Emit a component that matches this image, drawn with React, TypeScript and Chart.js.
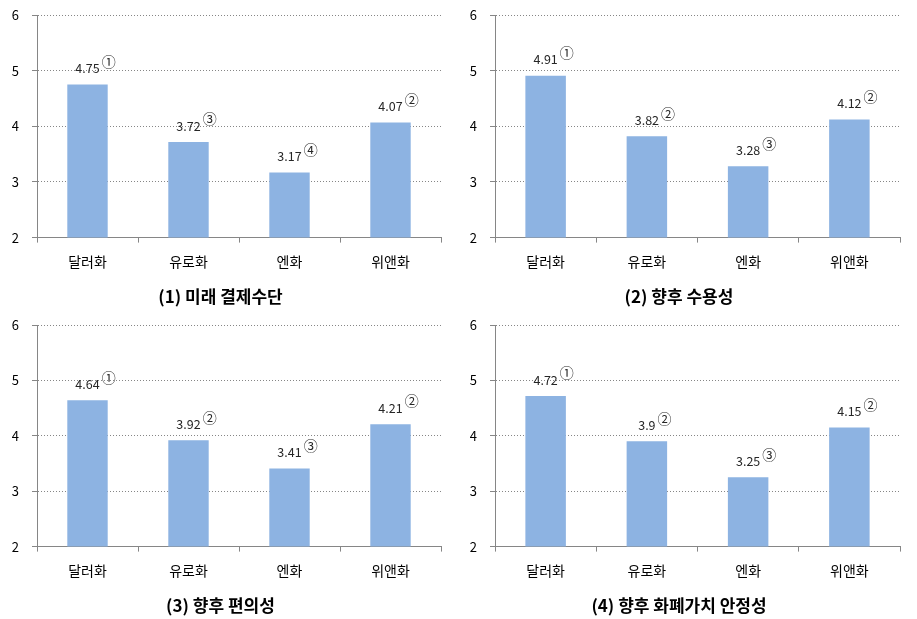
import React, { useEffect, useRef } from "react";
import { Chart, registerables } from "chart.js";

Chart.register(...registerables);

const categories = ["달러화", "유로화", "엔화", "위앤화"];
const yTicks = [2, 3, 4, 5, 6];

const titles = ["(1) 미래 결제수단", "(2) 향후 수용성", "(3) 향후 편의성", "(4) 향후 화폐가치 안정성"];

const values1 = [4.75, 3.72, 3.17, 4.07];
const values2 = [4.91, 3.82, 3.28, 4.12];
const values3 = [4.64, 3.92, 3.41, 4.21];
const values4 = [4.72, 3.9, 3.25, 4.15];

const ranks1 = ["①", "③", "④", "②"];
const ranks2 = ["①", "②", "③", "②"];
const ranks3 = ["①", "②", "③", "②"];
const ranks4 = ["①", "②", "③", "②"];

const FONT = "'Noto Sans CJK KR', 'Noto Sans', sans-serif";
const BAR = "#8DB3E2";
const AXIS = "#868686";

function Panel({ values, ranks, title, width, height }: { values: number[]; ranks: string[]; title: string; width: number; height: number }) {
  const ref = useRef<HTMLCanvasElement | null>(null);
  useEffect(() => {
    if (!ref.current) return;
    const labelPlugin = {
      id: "rankLabels",
      afterDatasetsDraw(chart: any) {
        const ctx = chart.ctx;
        const meta = chart.getDatasetMeta(0);
        ctx.save();
        meta.data.forEach((bar: any, i: number) => {
          const txt = String(values[i]);
          ctx.font = `12.5px ${FONT}`;
          ctx.fillStyle = "#262626";
          ctx.textAlign = "center";
          ctx.textBaseline = "middle";
          const cy = bar.y - 16;
          ctx.fillText(txt, bar.x, cy);
          const w = ctx.measureText(txt).width;
          ctx.font = `14px ${FONT}`;
          ctx.textAlign = "left";
          ctx.fillText(ranks[i], bar.x + w / 2 + 2, cy - 7);
        });
        ctx.restore();
      },
    };
    const chart = new Chart(ref.current, {
      type: "bar",
      data: {
        labels: categories,
        datasets: [{ data: values, backgroundColor: BAR, barPercentage: 0.4, categoryPercentage: 1 }],
      },
      options: {
        animation: false,
        responsive: false,
        devicePixelRatio: 1,
        layout: { padding: { left: 0, right: 17, top: 15, bottom: 0 } },
        plugins: {
          legend: { display: false },
          tooltip: { enabled: false },
          title: {
            display: true,
            text: title,
            position: "bottom",
            color: "#000",
            font: { family: FONT, size: 17, weight: "bold" },
            padding: { top: 9, bottom: 3 },
          },
        },
        scales: {
          x: {
            grid: { display: true, drawOnChartArea: false, drawTicks: true, tickLength: 5, color: AXIS, offset: true },
            border: { display: true, color: AXIS, width: 1 },
            ticks: { color: "#000", font: { family: FONT, size: 14 }, padding: 11 },
            afterFit: (s: any) => { s.height = 40; s.paddingLeft = 0; s.paddingRight = 0; },
          },
          y: {
            min: 2,
            max: 6,
            afterBuildTicks: (s: any) => { s.ticks = yTicks.map((v) => ({ value: v })); },
            grid: { color: AXIS, tickLength: 5, tickBorderDash: [], tickColor: AXIS, drawTicks: true },
            border: { display: true, color: AXIS, width: 1, dash: [1, 2] },
            ticks: { color: "#000", font: { family: FONT, size: 13 }, padding: 13 },
            afterFit: (s: any) => { s.width = 37; s.paddingTop = 0; s.paddingBottom = 0; },
          },
        },
      } as any,
      plugins: [labelPlugin],
    });
    return () => chart.destroy();
  }, []);
  return <canvas ref={ref} width={width} height={height} style={{ display: "block", width, height }} />;
}

export default function App() {
  return (
    <div style={{ position: "fixed", left: 0, top: 0, width: 917, height: 619, background: "#fff" }}>
      <div style={{ position: "absolute", left: 0, top: 0 }}>
        <Panel values={values1} ranks={ranks1} title={titles[0]} width={458} height={310} />
      </div>
      <div style={{ position: "absolute", left: 458, top: 0 }}>
        <Panel values={values2} ranks={ranks2} title={titles[1]} width={459} height={310} />
      </div>
      <div style={{ position: "absolute", left: 0, top: 310 }}>
        <Panel values={values3} ranks={ranks3} title={titles[2]} width={458} height={309} />
      </div>
      <div style={{ position: "absolute", left: 458, top: 310 }}>
        <Panel values={values4} ranks={ranks4} title={titles[3]} width={459} height={309} />
      </div>
    </div>
  );
}
